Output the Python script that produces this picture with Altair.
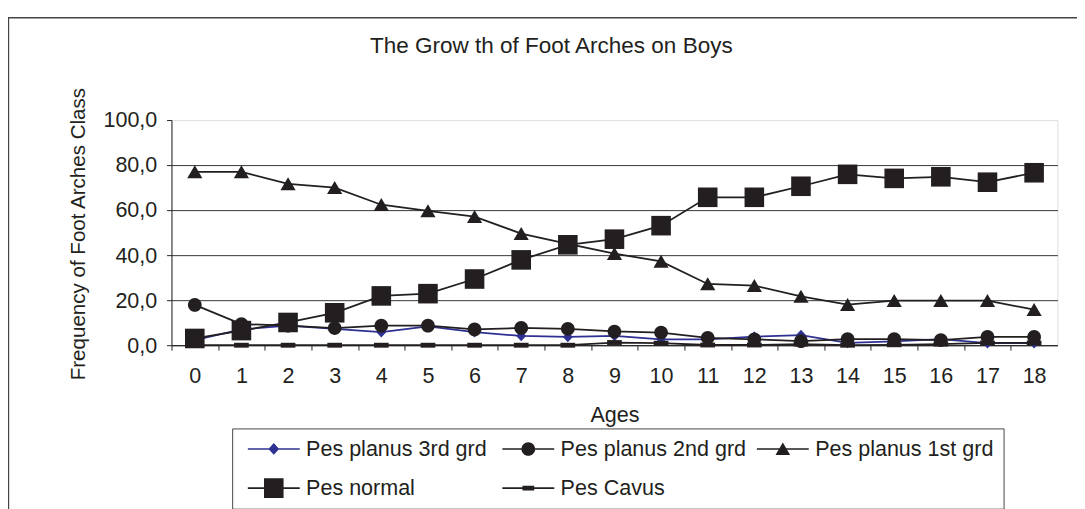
import altair as alt
import pandas as pd

# ---- data ----
ages = list(range(19))
series_names = ["Pes planus 3rd grd", "Pes planus 2nd grd", "Pes planus 1st grd", "Pes normal", "Pes Cavus"]
planus3 = [2.3, 7.0, 8.7, 7.3, 5.8, 8.4, 5.8, 4.1, 3.7, 4.1, 2.6, 2.6, 3.8, 4.5, 1.0, 1.7, 2.7, 0.9, 0.9]
planus2 = [17.9, 9.4, 8.7, 7.6, 8.7, 8.7, 7.0, 7.7, 7.3, 6.1, 5.6, 3.3, 2.6, 1.8, 2.7, 2.7, 2.3, 3.7, 3.7]
planus1 = [77.0, 77.0, 71.7, 70.0, 62.4, 59.7, 57.1, 49.6, 45.0, 40.7, 37.2, 27.2, 26.5, 21.7, 18.0, 19.8, 19.8, 19.8, 15.8]
normal = [3.0, 6.5, 10.1, 14.4, 21.9, 22.9, 29.4, 37.9, 44.6, 47.1, 53.1, 65.7, 65.7, 70.6, 75.9, 74.1, 74.8, 72.4, 76.6]
cavus = [0, 0, 0, 0, 0, 0, 0, 0, 0, 1.2, 0.9, 0.1, 0.1, 0.5, 0, 0.2, 0.5, 1.0, 1.0]
y_ticks = [0, 20, 40, 60, 80, 100]
title_text = ["The Grow th of Foot Arches on Boys"]

BLACK = "#231f20"
BLUE = "#2e3192"
FONT = "Liberation Sans"
series_colors = [BLUE, BLACK, BLACK, BLACK, BLACK]

# marker paths (unit = 5 px at size 100)
marker_paths = [
    "M0,-1.1L1,0L0,1.1L-1,0Z",
    "M-1.4,0A1.4,1.4 0 1,1 1.4,0A1.4,1.4 0 1,1 -1.4,0Z",
    "M0,-1.35L1.55,1.3L-1.55,1.3Z",
    "M-2,-2H2V2H-2Z",
    "M-1.5,-0.5H1.5V0.5H-1.5Z",
]
legend_line = "M-5.3,-0.17H5.3V0.17H-5.3Z "
legend_markers = [
    "M0,-1.2L1.1,0L0,1.2L-1.1,0Z",
    "M-1.4,0A1.4,1.4 0 1,1 1.4,0A1.4,1.4 0 1,1 -1.4,0Z",
    "M0,-1.3L1.5,1.25L-1.5,1.25Z",
    "M-2,-2H2V2H-2Z",
    "M-1.2,-0.5H1.2V0.5H-1.2Z",
]
legend_paths = [legend_line + m for m in legend_markers]

values = [planus3, planus2, planus1, normal, cavus]
rows = []
for name, vals in zip(series_names, values):
    for a, v in zip(ages, vals):
        rows.append({"age": a, "value": v, "series": name})
df = pd.DataFrame(rows)

W, H = 905, 230
step = W / 19.0

x_enc = alt.X(
    "age:Q",
    scale=alt.Scale(domain=[-0.5, 18.5], nice=False, zero=False),
    axis=alt.Axis(
        values=list(range(20)),
        labelExpr="datum.value > 18 ? '' : datum.label",
        format="d",
        grid=False,
        tickOffset=-step / 2,
        labelOffset=step / 2,
        tickSize=5,
        tickColor=BLACK,
        domainColor=BLACK,
        labelPadding=16,
        labelFontSize=22,
        labelFont=FONT,
        labelColor=BLACK,
        labelOverlap=False,
        labelFlush=False,
        labelBound=False,
        title="Ages",
        titleX=W / 2,
        titleY=61,
        titleBaseline="top",
        titleAlign="center",
        titleFontSize=22,
        titleFont=FONT,
        titleFontWeight="normal",
        titleColor=BLACK,
    ),
)
y_enc = alt.Y(
    "value:Q",
    scale=alt.Scale(domain=[0, 100], nice=False, zero=True),
    axis=alt.Axis(
        values=y_ticks,
        labelExpr="replace(format(datum.value, '.1f'), '.', ',')",
        tickSize=5,
        tickColor=BLACK,
        domainColor=BLACK,
        labelPadding=10,
        labelFontSize=22,
        labelFont=FONT,
        labelColor=BLACK,
        labelFlush=False,
        labelOverlap=False,
        grid=True,
        gridColor={"condition": {"test": "datum.value === 100", "value": "#e2e2e2"}, "value": "#333333"},
        gridWidth=1,
        title="Frequency of Foot Arches Class",
        titleX=-95,
        titleY=116,
        titleAngle=270,
        titleAlign="center",
        titleBaseline="middle",
        titleFontSize=21,
        titleFont=FONT,
        titleFontWeight="normal",
        titleColor=BLACK,
    ),
)

base = alt.Chart(df)

lines = base.mark_line(strokeWidth=1.8).encode(
    x=x_enc,
    y=y_enc,
    color=alt.Color("series:N", scale=alt.Scale(domain=series_names, range=series_colors), legend=None),
    detail="series:N",
)

points = base.mark_point(filled=True, opacity=1, size=100, strokeWidth=0).encode(
    x=x_enc,
    y=y_enc,
    color=alt.Color("series:N", scale=alt.Scale(domain=series_names, range=series_colors), legend=None),
    shape=alt.Shape("series:N", scale=alt.Scale(domain=series_names, range=marker_paths), legend=None),
)

leg = alt.Legend(
    orient="none",
    direction="horizontal",
    legendX=62,
    legendY=315,
    columns=3,
    gridAlign="all",
    symbolSize=100,
    symbolStrokeWidth=0,
    symbolOffset=21.5,
    labelOffset=22,
    columnPadding=4,
    rowPadding=18,
    padding=10,
    strokeColor="#444444",
    fillColor="white",
    labelFont=FONT,
    labelFontSize=22,
    labelColor=BLACK,
    labelLimit=400,
    title=None,
)
legend_layer = base.transform_filter("datum.age < 0").mark_point(filled=True, opacity=1, size=100).encode(
    x=x_enc,
    y=y_enc,
    color=alt.Color("series:N", scale=alt.Scale(domain=series_names, range=series_colors), legend=leg),
    shape=alt.Shape("series:N", scale=alt.Scale(domain=series_names, range=legend_paths), legend=leg),
)

frame = alt.Chart(pd.DataFrame({"k": [0]})).mark_rect(
    fillOpacity=0, stroke="#444444", strokeWidth=1.4
).encode(
    x=alt.value(-166.5), x2=alt.value(960), y=alt.value(-104.5), y2=alt.value(420)
)

title = alt.Chart(pd.DataFrame({"t": title_text})).mark_text(
    font=FONT, fontSize=23, color=BLACK, align="center", baseline="alphabetic"
).encode(x=alt.value(388), y=alt.value(-68), text="t:N")

chart = (
    alt.layer(frame, lines, points, legend_layer, title)
    .resolve_scale(color="independent", shape="independent")
    .properties(
        width=W,
        height=H,
        autosize=alt.AutoSizeParams(type="none"),
        padding={"left": 167, "top": 109, "right": 20, "bottom": 170},
    )
    .configure_view(stroke=None)
    .configure(font=FONT)
)

chart.save("out.html", embed_options={"renderer": "svg", "actions": False})
